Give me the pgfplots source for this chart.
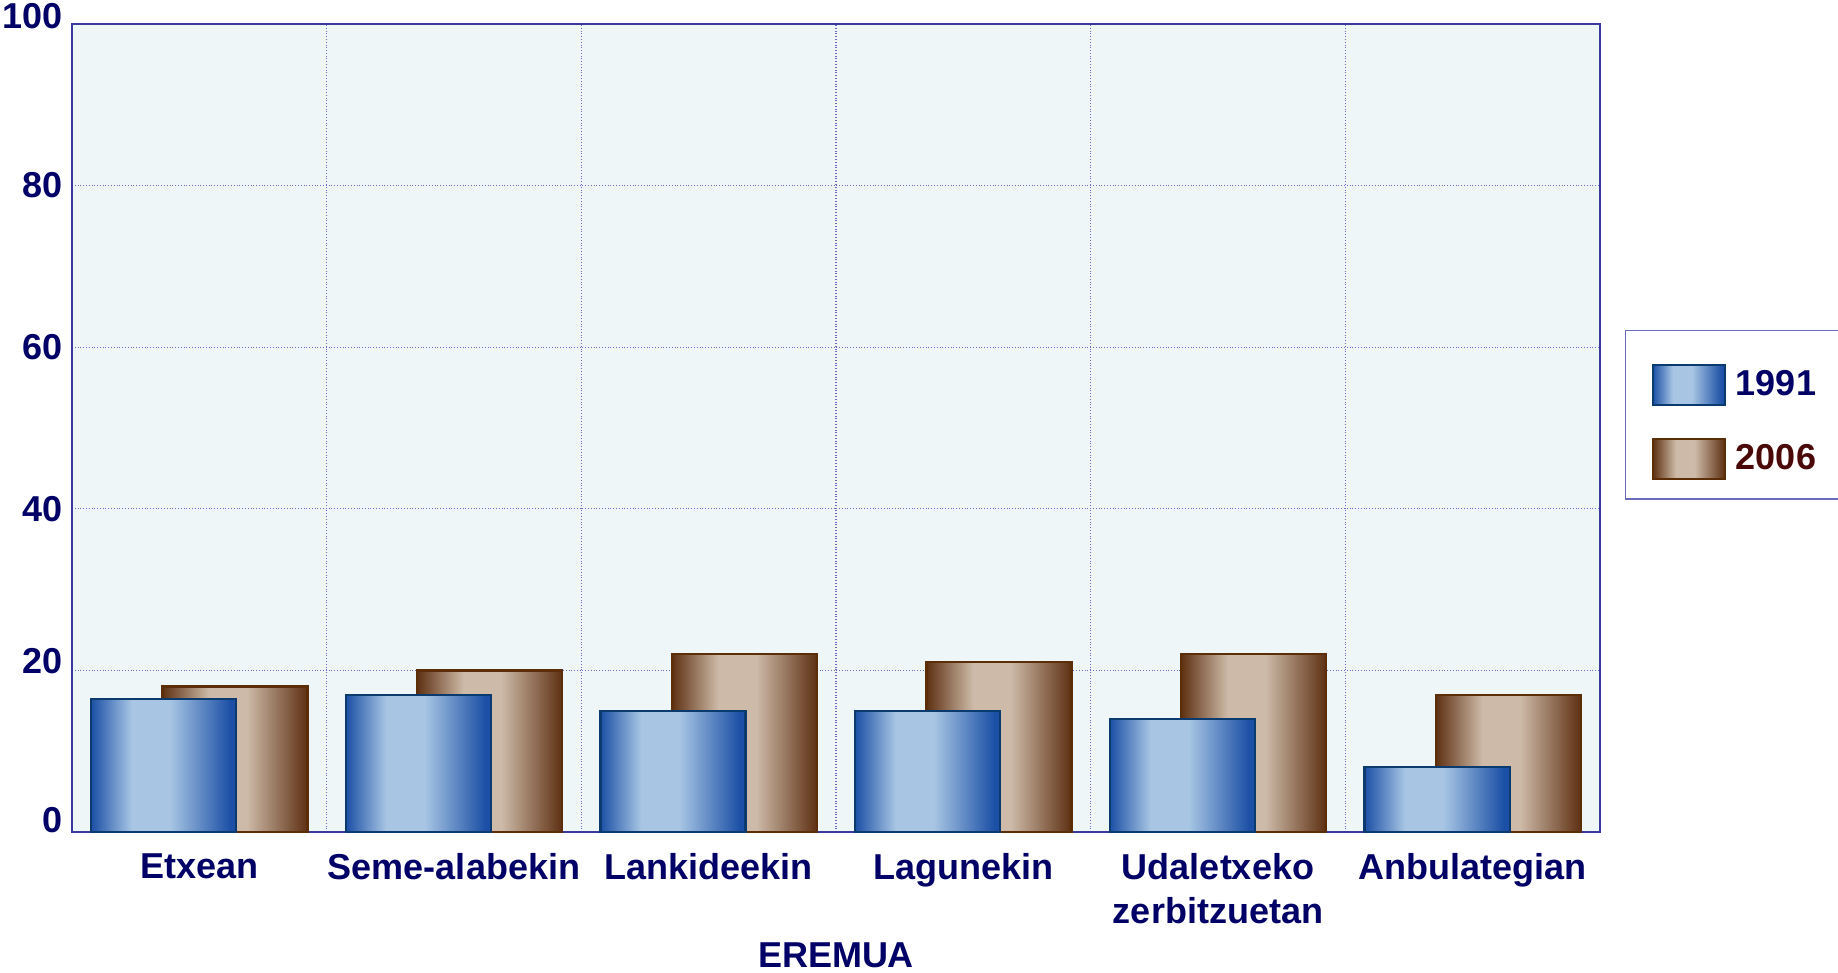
\documentclass[border=0pt]{standalone}
\usepackage{pgfplots}
\pgfplotsset{compat=1.18}
\usepackage{fontspec}
\setmainfont{Liberation Sans}

\definecolor{txtblue}{HTML}{000066}
\definecolor{txtbrown}{HTML}{4A0808}
\definecolor{axiscol}{HTML}{3A3A9E}
\definecolor{gridcol}{HTML}{6A6AC4}
\definecolor{bgcol}{HTML}{EEF6F8}
\definecolor{legcol}{HTML}{6A6AC0}
\definecolor{bluedark}{HTML}{1C50A6}
\definecolor{bluelight}{HTML}{A8C6E4}
\definecolor{blueline}{HTML}{0A3A6E}
\definecolor{browndark}{HTML}{5E3012}
\definecolor{brownlight}{HTML}{CDBAA8}
\definecolor{brownline}{HTML}{5C2E08}

\pgfdeclarehorizontalshading{shadeblue}{100bp}{color(0bp)=(bluedark); color(25bp)=(bluedark); color(39bp)=(bluelight); color(52bp)=(bluelight); color(73bp)=(bluedark); color(100bp)=(bluedark)}
\pgfdeclarehorizontalshading{shadebrown}{100bp}{color(0bp)=(browndark); color(25bp)=(browndark); color(41bp)=(brownlight); color(54bp)=(brownlight); color(75bp)=(browndark); color(100bp)=(browndark)}

\pgfplotsset{
  rectlegend/.style={legend image code/.code={%
    \pgfpathrectangle{\pgfpoint{0bp}{-10bp}}{\pgfpoint{36bp}{27.5bp}}\pgfusepath{}%
    \draw[##1] (0bp,-10bp) rectangle (36bp,10bp);}},
  bar2006/.style={rectlegend, bar width=0.57, bar shift=0.14, shade, shading=shadebrown, draw=brownline, line width=1.1bp},
  bar1991/.style={rectlegend, bar width=0.57, bar shift=-0.14, shade, shading=shadeblue, draw=blueline, line width=1.1bp},
}

\begin{document}
\begin{tikzpicture}
\begin{axis}[
    scale only axis,
    width=764bp, height=404bp,
    at={(0,0)}, anchor=south west,
    ybar,
    xmin=0.5, xmax=6.5,
    ymin=0, ymax=100,
    xtick={1,2,3,4,5,6},
    xticklabels={Etxean, Seme-alabekin, Lankideekin, Lagunekin, {Udaletxeko\\zerbitzuetan}, Anbulategian},
    minor xtick={1.5,2.5,3.5,4.5,5.5},
    ytick={0,20,40,60,80,100},
    yticklabels={\raisebox{6bp}[\height][\depth]{0}, \raisebox{4.5bp}[\height][\depth]{20}, 40, 60, 80, \raisebox{4bp}[\height][\depth]{100}},
    xminorgrids, ymajorgrids,
    major grid style={densely dotted, draw=gridcol, line width=0.6bp},
    minor grid style={densely dotted, draw=gridcol, line width=0.6bp},
    major tick length=0pt, minor tick length=0pt,
    axis line style={draw=axiscol, line width=1.1bp},
    axis background/.style={fill=bgcol},
    tick label style={font=\fontsize{18bp}{22bp}\selectfont\bfseries, text=txtblue},
    yticklabel style={inner sep=0pt, xshift=-4.5bp},
    xticklabel style={inner sep=0pt, anchor=north, align=center, yshift=-10.5bp},
    xlabel={EREMUA},
    xlabel style={at={(axis description cs:0.5,0)}, anchor=north, inner sep=0pt, yshift=-55bp,
      font=\fontsize{18bp}{22bp}\selectfont\bfseries, text=txtblue},
    reverse legend,
    legend style={at={(axis description cs:1.0164,0.6213)}, anchor=north west,
      draw=legcol, line width=0.7bp, fill=white,
      inner xsep=13bp, inner ysep=9.5bp, row sep=9bp,
      font=\fontsize{18bp}{22bp}\selectfont\bfseries,
      /tikz/every odd column/.append style={column sep=3bp}},
    legend cell align=left,
]
% 2006 (drawn first, behind)
\addplot[bar2006] coordinates {(1,18)};
\addlegendentry{\textcolor{txtbrown}{2006}\hspace*{30bp}}
\addplot[bar2006, forget plot] coordinates {(2,20)};
\addplot[bar2006, forget plot] coordinates {(3,22)};
\addplot[bar2006, forget plot] coordinates {(4,21)};
\addplot[bar2006, forget plot] coordinates {(5,22)};
\addplot[bar2006, forget plot] coordinates {(6,17)};
% 1991 (in front)
\addplot[bar1991] coordinates {(1,16.5)};
\addlegendentry{\textcolor{txtblue}{1991}\hspace*{30bp}}
\addplot[bar1991, forget plot] coordinates {(2,17)};
\addplot[bar1991, forget plot] coordinates {(3,15)};
\addplot[bar1991, forget plot] coordinates {(4,15)};
\addplot[bar1991, forget plot] coordinates {(5,14)};
\addplot[bar1991, forget plot] coordinates {(6,8)};
\end{axis}
\pgfresetboundingbox
\useasboundingbox (-36bp,-70.5bp) rectangle (883bp,416bp);
\end{tikzpicture}
\end{document}
